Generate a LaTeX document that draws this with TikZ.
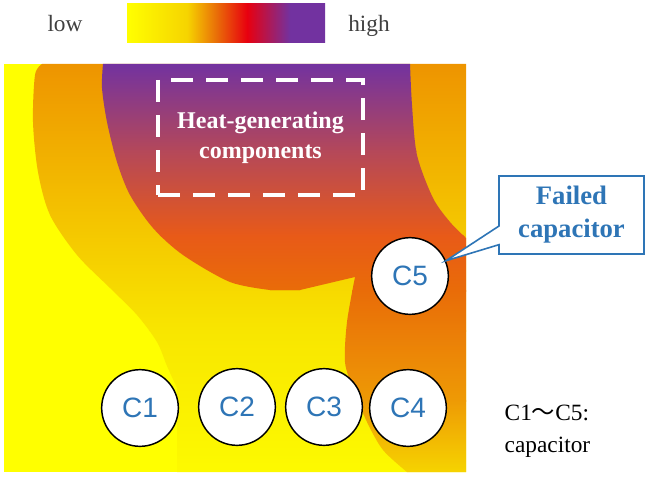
\documentclass[tikz,border=0pt]{standalone}
\usepackage{xcolor}
\usepackage{fontspec}
\setmainfont{Liberation Serif}
\setsansfont{Liberation Sans}
\newfontfamily\cjk{Noto Sans CJK JP}
\usepackage{tikz}
\usetikzlibrary{shapes,shapes.callouts,backgrounds,positioning}

\definecolor{capblue}{HTML}{2E75B6}
\definecolor{legendgray}{HTML}{404040}
\definecolor{mapyellow}{HTML}{FFFF00}
\definecolor{warmtop}{HTML}{EE9400}
\definecolor{warmmid}{HTML}{F8E600}
\definecolor{warmbot}{HTML}{FDFA00}
\definecolor{hotpurple}{HTML}{7232A0}
\definecolor{hotmid}{HTML}{B4485A}
\definecolor{hotred}{HTML}{E85A18}
\definecolor{hotorange}{HTML}{E96C08}
\definecolor{hotamber}{HTML}{EE9A05}
\definecolor{hotend}{HTML}{F6D400}
\definecolor{barred}{HTML}{E8000F}

% legend bar: the path covers 25bp to 75bp
\pgfdeclarehorizontalshading{legendbar}{100bp}{color(0bp)=(mapyellow); color(25bp)=(mapyellow);
  color(40.2bp)=(hotend); color(47.7bp)=(hotorange); color(55.3bp)=(barred);
  color(66.2bp)=(hotpurple); color(100bp)=(hotpurple)}

\begin{document}
\begin{tikzpicture}[x=0.75pt, y=-0.75pt,
  capnode/.style={draw, circle, line width=1.1pt, fill=white, minimum size=57.5pt, inner sep=0pt,
    text=capblue, font=\sffamily\fontsize{21}{21}\selectfont},
  legend/.style={text=legendgray, font=\fontsize{17.5}{17.5}\selectfont, anchor=base}]
\useasboundingbox (0,0) rectangle (649,478);

% legend
\node [legend] (low) at (65,32) {low};
\node [legend] (high) at (369,32) {high};
\shade [shading=legendbar] (127,4) rectangle (325,43);

% heat map
\fill [mapyellow] (4,64) rectangle (466,472);
\begin{scope}
\clip (466,64) -- (466,472) -- (177,472) -- plot [smooth] coordinates {(177,388) (167,366) (157,342) (137,315) (110,288) (77,255) (50,215) (38,172) (33,122) (35,75) (42,64)} -- cycle;
\shade [top color=warmtop, bottom color=warmmid] (0,63) rectangle (470,331);
\shade [top color=warmmid, bottom color=warmbot] (0,330) rectangle (470,473);
\end{scope}
\begin{scope}
\clip (103,64) -- plot [smooth] coordinates {(410,64) (412,105) (417,155) (433,198) (450,222) (466,238)} -- (466,472) -- plot [smooth] coordinates {(407,472) (383,450) (367,422) (353,388) (345,362) (347,322) (355,277)} -- (300,290) -- plot [smooth] coordinates {(270,290) (230,282) (183,255) (153,228) (130,195) (117,162) (107,122) (102,88) (103,64)} -- cycle;
\shade [top color=hotpurple, bottom color=hotmid] (0,63) rectangle (470,151);
\shade [top color=hotmid, bottom color=hotred] (0,150) rectangle (470,236);
\shade [top color=hotred, bottom color=hotorange] (0,235) rectangle (470,291);
\shade [top color=hotorange, bottom color=hotamber] (0,290) rectangle (470,401);
\shade [top color=hotamber, bottom color=hotend] (0,400) rectangle (470,473);
\end{scope}

\node [draw=white, line width=3pt, dash pattern=on 16.5pt off 9.75pt, minimum width=153.75pt, minimum height=86.25pt,
  align=center, text=white, font=\bfseries\fontsize{18}{22.5}\selectfont] (heat) at (260.5,137.5) {Heat-generating\\components};

% capacitors
\node [capnode] (c1) at (140,408) {C1};
\node [capnode] (c2) at (237,407) {C2};
\node [capnode] (c3) at (324,407) {C3};
\node [capnode] (c4) at (408,408) {C4};
\node [capnode] (c5) at (410,276) {C5};

\node [rectangle callout, draw=capblue, line width=1.2pt, fill=white, text=capblue, align=center,
  font=\bfseries\fontsize{20}{24.75}\selectfont, minimum width=108.75pt, minimum height=58.5pt,
  callout absolute pointer={(c5.23)}, callout pointer width=14pt] (failed) at (571.5,215) {Failed\\capacitor};

\node [anchor=north west, align=left, font=\fontsize{17.5}{24}\selectfont] (note) at (500,400) {C1{\cjk ～}C5:\\capacitor};
\end{tikzpicture}
\end{document}
